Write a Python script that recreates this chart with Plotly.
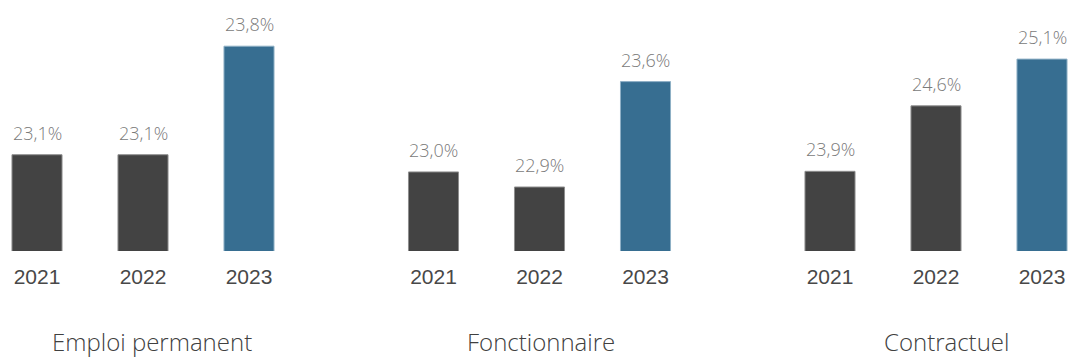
import plotly.graph_objects as go
from plotly.subplots import make_subplots

# Data
years = ["2021", "2022", "2023"]
groups = ["Emploi permanent", "Fonctionnaire", "Contractuel"]
emploi_permanent = [23.1, 23.1, 23.8]
fonctionnaire = [23.0, 22.9, 23.6]
contractuel = [23.9, 24.6, 25.1]
series = [emploi_permanent, fonctionnaire, contractuel]

# Styling
GREY = "#434343"
BLUE = "#376e91"
bar_colors = [GREY, GREY, BLUE]
line_colors = ["#8e8e8e", "#8e8e8e", "#8fb0c6"]
LABEL_FONT = dict(family="Open Sans", size=18, color="#7a7a7a", weight=300)
TICK_FONT = dict(family="Liberation Sans", size=21, color="#484848", weight=400)
TITLE_FONT = dict(family="Open Sans", size=24, color="#404040", weight=300)

W, H = 1070, 360
BASE_PX = 251          # pixel row of the bar baseline
UNIT = 106.0           # pixel spacing between categories

# x layout per panel: (domain left px, domain right px, first bar centre px)
x_layout = [(0, 300, 37), (380, 700, 433.5), (776, 1070, 830)]
# y range per panel (each panel has its own truncated scale)
y_ranges = [[22.479, 24.098], [22.475, 24.142], [23.048, 25.732]]
title_x = [152, 540.5, 946]

fig = make_subplots(rows=1, cols=3)

for i, (vals, name) in enumerate(zip(series, groups)):
    col = i + 1
    fig.add_trace(
        go.Bar(
            x=years,
            y=vals,
            marker=dict(color=bar_colors, line=dict(color=line_colors, width=1)),
            hoverinfo="skip",
            showlegend=False,
        ),
        row=1, col=col,
    )
    a, b, c0 = x_layout[i]
    r0 = -(c0 - a) / UNIT
    r1 = r0 + (b - a) / UNIT
    xa = "xaxis" if i == 0 else f"xaxis{col}"
    ya = "yaxis" if i == 0 else f"yaxis{col}"
    fig.layout[xa].update(
        domain=[a / W, b / W],
        range=[r0, r1],
        type="category",
        showgrid=False, zeroline=False, showline=False,
        ticks="outside", ticklen=7, tickcolor="rgba(0,0,0,0)",
        tickfont=TICK_FONT,
    )
    fig.layout[ya].update(
        domain=[(H - BASE_PX) / H, 1.0],
        range=y_ranges[i],
        visible=False,
    )
    xref = "x" if i == 0 else f"x{col}"
    yref = "y" if i == 0 else f"y{col}"
    # value labels above each bar (category index as x position)
    for j, v in enumerate(vals):
        fig.add_annotation(
            x=j, y=v, xref=xref, yref=yref,
            text=f"{v:.1f}%".replace(".", ","),
            showarrow=False, yanchor="bottom", yshift=8,
            font=LABEL_FONT,
        )
    # panel title along the bottom edge
    fig.add_annotation(
        x=title_x[i] / W, y=0, xref="paper", yref="paper",
        text=name, showarrow=False, xanchor="center", yanchor="bottom",
        font=TITLE_FONT,
    )

fig.update_layout(
    width=W, height=H,
    margin=dict(l=0, r=0, t=0, b=0),
    paper_bgcolor="white", plot_bgcolor="white",
    bargap=0.528,
)

fig.write_html("out.html")
